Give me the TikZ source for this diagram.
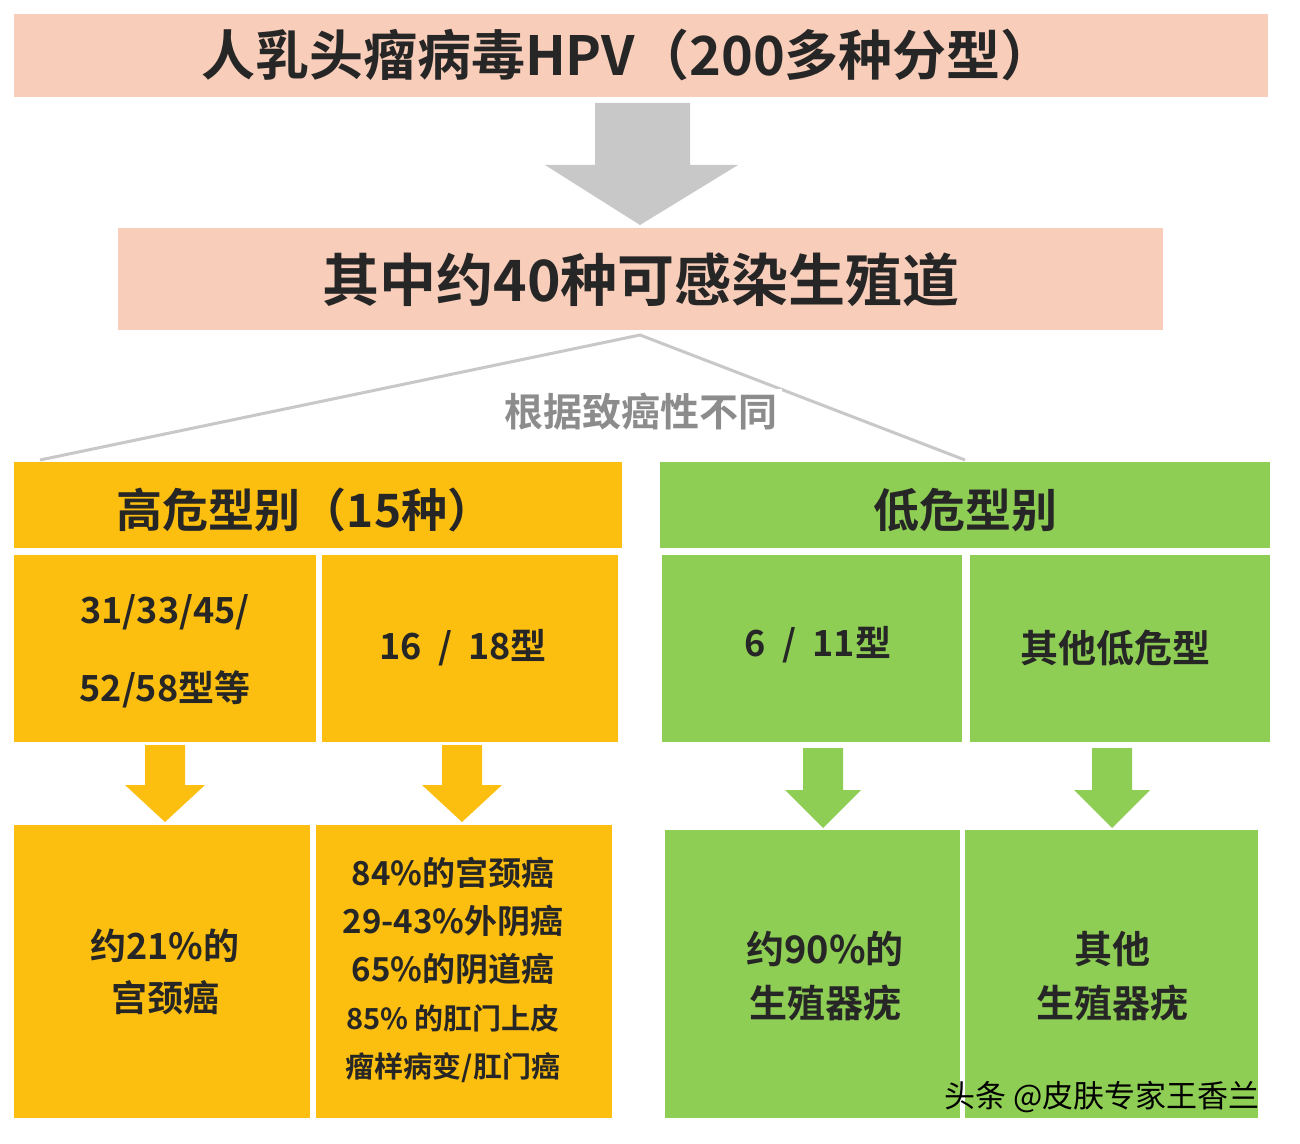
\documentclass[tikz,border=0pt]{standalone}
\usepackage{fontspec}
\setmainfont{Noto Sans CJK SC}[BoldFont={* Bold}]
\newfontfamily\cjk{Noto Sans CJK SC}
\begin{document}
\begin{tikzpicture}[x=0.5pt,y=-0.5pt,
  bx/.style={inner sep=0pt,align=center,font=\bfseries,text=black!85}]
\definecolor{peachc}{HTML}{F8CDB9}
\definecolor{orangec}{HTML}{FDBF0F}
\definecolor{greenc}{HTML}{8FCE55}
\definecolor{greyc}{HTML}{C8C8C8}
\useasboundingbox (0,0) rectangle (1300,1144);
\fill[white] (0,0) rectangle (1300,1144);
% top bars
\fill[peachc] (14,14) rectangle (1268,97);
\node[bx,font=\bfseries\fontsize{27}{30}\selectfont] (t1) at (628,55) {人乳头瘤病毒HPV（200多种分型）};
\fill[greyc] (595,103) -- (690,103) -- (690,165) -- (738,165) -- (640,225) -- (545,165) -- (595,165) -- cycle;
\fill[peachc] (118,228) rectangle (1163,330);
\node[bx,font=\bfseries\fontsize{28.5}{32}\selectfont] (t2) at (641,280) {其中约40种可感染生殖道};
% branch lines
\coordinate (top) at (640,335);
\coordinate (l) at (40,460);
\coordinate (r) at (965,460);
\draw[greyc,line width=1.5pt] (l) -- (top) -- (r);
\node[fill=white,inner sep=2pt,text=black!45,font=\bfseries\fontsize{19.5}{22}\selectfont] (lab) at (641,412) {根据致癌性不同};
% orange
\fill[orangec] (14,462) rectangle (622,548);
\node[bx,font=\bfseries\fontsize{23}{26}\selectfont] (h1) at (305,510) {高危型别（15种）};
\fill[orangec] (14,555) rectangle (316,742);
\fill[orangec] (322,555) rectangle (618,742);
\node[bx,font=\bfseries\fontsize{18}{39}\selectfont] (o1) at (165,651) {31/33/45/\\52/58型等};
\node[bx,font=\bfseries\fontsize{18}{20}\selectfont] (o2) at (463,648) {16 \ / \ 18型};
\foreach \c in {165,462}{
  \fill[orangec] (\c-20,745) -- (\c+20,745) -- (\c+20,785) -- (\c+40,785) -- (\c,822) -- (\c-40,785) -- (\c-20,785) -- cycle;}
\fill[orangec] (14,825) rectangle (310,1118);
\fill[orangec] (316,825) rectangle (612,1118);
\node[bx,font=\bfseries\fontsize{18}{26}\selectfont] (o3) at (165,972) {约21\%的\\宫颈癌};
\node[bx,font=\bfseries\fontsize{16.5}{24}\selectfont] (o4) at (453,970) {84\%的宫颈癌\\29-43\%外阴癌\\65\%的阴道癌\\{\fontsize{14.5}{22}\selectfont 85\% 的肛门上皮}\\{\fontsize{14.5}{22}\selectfont 瘤样病变/肛门癌}};
% green
\fill[greenc] (660,462) rectangle (1270,548);
\node[bx,font=\bfseries\fontsize{23}{26}\selectfont] (h2) at (965,510) {低危型别};
\fill[greenc] (662,555) rectangle (962,742);
\fill[greenc] (970,555) rectangle (1270,742);
\node[bx,font=\bfseries\fontsize{18}{20}\selectfont] (g1) at (818,645) {6 \ / \ 11型};
\node[bx,font=\bfseries\fontsize{19}{20}\selectfont] (g2) at (1115,648) {其他低危型};
\foreach \c in {823,1112}{
  \fill[greenc] (\c-20,748) -- (\c+20,748) -- (\c+20,790) -- (\c+38,790) -- (\c,828) -- (\c-38,790) -- (\c-20,790) -- cycle;}
\fill[greenc] (665,830) rectangle (960,1118);
\fill[greenc] (965,830) rectangle (1258,1118);
\node[bx,font=\bfseries\fontsize{19}{27}\selectfont] (g3) at (825,976) {约90\%的\\生殖器疣};
\node[bx,font=\bfseries\fontsize{19}{27}\selectfont] (g4) at (1112,976) {其他\\生殖器疣};
% watermark
\node[inner sep=0pt,text=black,font=\fontsize{15.5}{18}\selectfont] (wm) at (1102,1097) {头条 @皮肤专家王香兰};
\end{tikzpicture}
\end{document}
